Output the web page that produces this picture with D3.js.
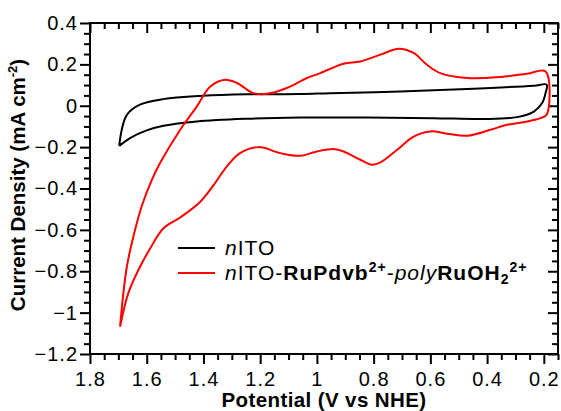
<!DOCTYPE html>
<html>
<head>
<meta charset="utf-8">
<script src="https://cdn.jsdelivr.net/npm/d3@7"></script>
<style>
  body { margin: 0; background: #fff; }
  text { font-family: "Liberation Sans", Arial, Helvetica, sans-serif; }
</style>
</head>
<body>
<script>
// x ticks (V vs NHE) and y ticks (mA cm-2)
var xTicks = [1.8, 1.6, 1.4, 1.2, 1, 0.8, 0.6, 0.4, 0.2];
var yTicks = [0.4, 0.2, 0, -0.2, -0.4, -0.6, -0.8, -1, -1.2];

// nITO (potential, current density)
var itoV = [1.697, 1.688, 1.670, 1.624, 1.542, 1.401, 1.247, 1.059, 0.953, 0.706, 0.470, 0.235, 0.190,
            0.194, 0.206, 0.235, 0.294, 0.412, 0.588, 0.823, 1.059, 1.247, 1.423, 1.541, 1.600, 1.659, 1.697];
var itoJ = [-0.194, -0.116, -0.044, 0.005, 0.032, 0.048, 0.055, 0.057, 0.061, 0.069, 0.081, 0.097, 0.102,
            0.061, 0.013, -0.028, -0.055, -0.064, -0.060, -0.057, -0.057, -0.063, -0.076, -0.097, -0.119, -0.156, -0.194];

// nITO-RuPdvb2+-polyRuOH2 2+
var ruV = [1.694, 1.685, 1.670, 1.647, 1.618, 1.582, 1.553, 1.482, 1.423, 1.376, 1.323, 1.282, 1.224, 1.176,
           1.106, 1.035, 0.988, 0.906, 0.847, 0.776, 0.712, 0.659, 0.612, 0.565, 0.470, 0.353, 0.259, 0.194,
           0.190, 0.212, 0.259, 0.329, 0.388, 0.470, 0.541, 0.600, 0.659, 0.717, 0.776, 0.806, 0.847, 0.906,
           0.941, 1.000, 1.059, 1.129, 1.206, 1.271, 1.318, 1.365, 1.412, 1.482, 1.541, 1.588, 1.629, 1.665, 1.694];
var ruJ = [-1.068, -0.939, -0.777, -0.632, -0.487, -0.358, -0.277, -0.116, -0.003, 0.093, 0.126, 0.110, 0.061, 0.058,
           0.086, 0.134, 0.158, 0.203, 0.214, 0.247, 0.276, 0.255, 0.198, 0.158, 0.134, 0.139, 0.155, 0.166,
           -0.044, -0.060, -0.076, -0.092, -0.116, -0.145, -0.135, -0.124, -0.149, -0.213, -0.274, -0.285, -0.261, -0.221,
           -0.209, -0.221, -0.242, -0.229, -0.200, -0.229, -0.294, -0.385, -0.465, -0.540, -0.592, -0.690, -0.793, -0.906, -1.068];

var width = 561, height = 411;
var margin = {top: 23, right: 3, bottom: 57, left: 90};

var svg = d3.select("body").append("svg")
  .attr("width", width)
  .attr("height", height);

var x = d3.scaleLinear().domain([1.8, 0.15]).range([margin.left, width - margin.right]);
var y = d3.scaleLinear().domain([-1.2, 0.4]).range([height - margin.bottom, margin.top]);

var minorX = d3.range(0.15, 1.8001, 0.05).filter(function(v) { return Math.abs(v * 5 - Math.round(v * 5)) > 0.01; });
var minorY = d3.range(-1.2, 0.4001, 0.05).filter(function(v) { return Math.abs(v * 5 - Math.round(v * 5)) > 0.01; });
var fmt = d3.format("~g");

function styleAxis(g) {
  g.select(".domain").remove();
  g.selectAll("line").attr("stroke", "#000").attr("stroke-width", 2);
  g.selectAll("text").attr("fill", "#000").style("font-size", "20px").style("letter-spacing", "1px");
}

// minor ticks
svg.append("g").attr("transform", "translate(" + x.range()[0] + ",0)")
  .call(d3.axisLeft(y).tickValues(minorY).tickSize(6).tickFormat(""))
  .call(styleAxis);
svg.append("g").attr("transform", "translate(" + x.range()[1] + ",0)")
  .call(d3.axisLeft(y).tickValues(minorY).tickSize(6).tickFormat(""))
  .call(styleAxis);
svg.append("g").attr("transform", "translate(0," + y.range()[0] + ")")
  .call(d3.axisBottom(x).tickValues(minorX).tickSize(6).tickFormat(""))
  .call(styleAxis);
svg.append("g").attr("transform", "translate(0," + y.range()[1] + ")")
  .call(d3.axisBottom(x).tickValues(minorX).tickSize(6).tickFormat(""))
  .call(styleAxis);

// major ticks
svg.append("g").attr("transform", "translate(" + x.range()[0] + ",0)")
  .call(d3.axisLeft(y).tickValues(yTicks).tickSize(10).tickPadding(2).tickFormat(fmt))
  .call(styleAxis);
svg.append("g").attr("transform", "translate(" + x.range()[1] + ",0)")
  .call(d3.axisLeft(y).tickValues(yTicks).tickSize(10).tickFormat(""))
  .call(styleAxis);
svg.append("g").attr("transform", "translate(0," + y.range()[0] + ")")
  .call(d3.axisBottom(x).tickValues(xTicks).tickSize(10).tickPadding(8).tickFormat(fmt))
  .call(styleAxis);
svg.append("g").attr("transform", "translate(0," + y.range()[1] + ")")
  .call(d3.axisBottom(x).tickValues(xTicks).tickSize(10).tickFormat(""))
  .call(styleAxis);

// frame
svg.append("rect")
  .attr("x", x.range()[0]).attr("y", y.range()[1])
  .attr("width", x.range()[1] - x.range()[0])
  .attr("height", y.range()[0] - y.range()[1])
  .attr("fill", "none").attr("stroke", "#000").attr("stroke-width", 2);

// curves
var line = d3.line()
  .x(function(d) { return x(d[0]); })
  .y(function(d) { return y(d[1]); })
  .curve(d3.curveCatmullRom.alpha(0.5));

svg.append("path")
  .datum(d3.zip(itoV, itoJ))
  .attr("d", line)
  .attr("fill", "none").attr("stroke", "#000").attr("stroke-width", 2);

svg.append("path")
  .datum(d3.zip(ruV, ruJ))
  .attr("d", line)
  .attr("fill", "none").attr("stroke", "#ff0000").attr("stroke-width", 2);

// axis titles
svg.append("text")
  .attr("x", (x.range()[0] + x.range()[1]) / 2)
  .attr("y", 407)
  .attr("text-anchor", "middle")
  .style("font-size", "20.5px").style("font-weight", "bold").style("letter-spacing", "0.4px")
  .text("Potential (V vs NHE)");

var yl = svg.append("text")
  .attr("transform", "translate(25," + 185 + ") rotate(-90)")
  .attr("text-anchor", "middle")
  .style("font-size", "20.5px").style("font-weight", "bold");
yl.append("tspan").text("Current Density (mA cm");
yl.append("tspan").attr("dy", -8).style("font-size", "13px").text("-2");
yl.append("tspan").attr("dy", 8).text(")");

// legend
var leg = svg.append("g").attr("transform", "translate(178,248)");
leg.append("line").attr("x1", 0).attr("x2", 37).attr("y1", 0).attr("y2", 0)
  .attr("stroke", "#000").attr("stroke-width", 2);
leg.append("line").attr("x1", 0).attr("x2", 37).attr("y1", 25).attr("y2", 25)
  .attr("stroke", "#ff0000").attr("stroke-width", 2);

var t1 = leg.append("text").attr("x", 47).attr("y", 7)
  .style("font-size", "21px").style("letter-spacing", "1px");
t1.append("tspan").style("font-style", "italic").text("n");
t1.append("tspan").text("ITO");

var t2 = leg.append("text").attr("x", 47).attr("y", 32)
  .style("font-size", "21px").style("letter-spacing", "1px");
t2.append("tspan").style("font-style", "italic").text("n");
t2.append("tspan").text("ITO-");
t2.append("tspan").style("font-weight", "bold").text("RuPdvb");
t2.append("tspan").style("font-weight", "bold").style("font-size", "14px").attr("dy", -8).text("2+");
t2.append("tspan").attr("dy", 8).text("-");
t2.append("tspan").style("font-style", "italic").text("poly");
t2.append("tspan").style("font-weight", "bold").text("RuOH");
t2.append("tspan").style("font-weight", "bold").style("font-size", "14px").attr("dy", 4).text("2");
t2.append("tspan").style("font-weight", "bold").style("font-size", "14px").attr("dy", -12).text("2+");
</script>
</body>
</html>
